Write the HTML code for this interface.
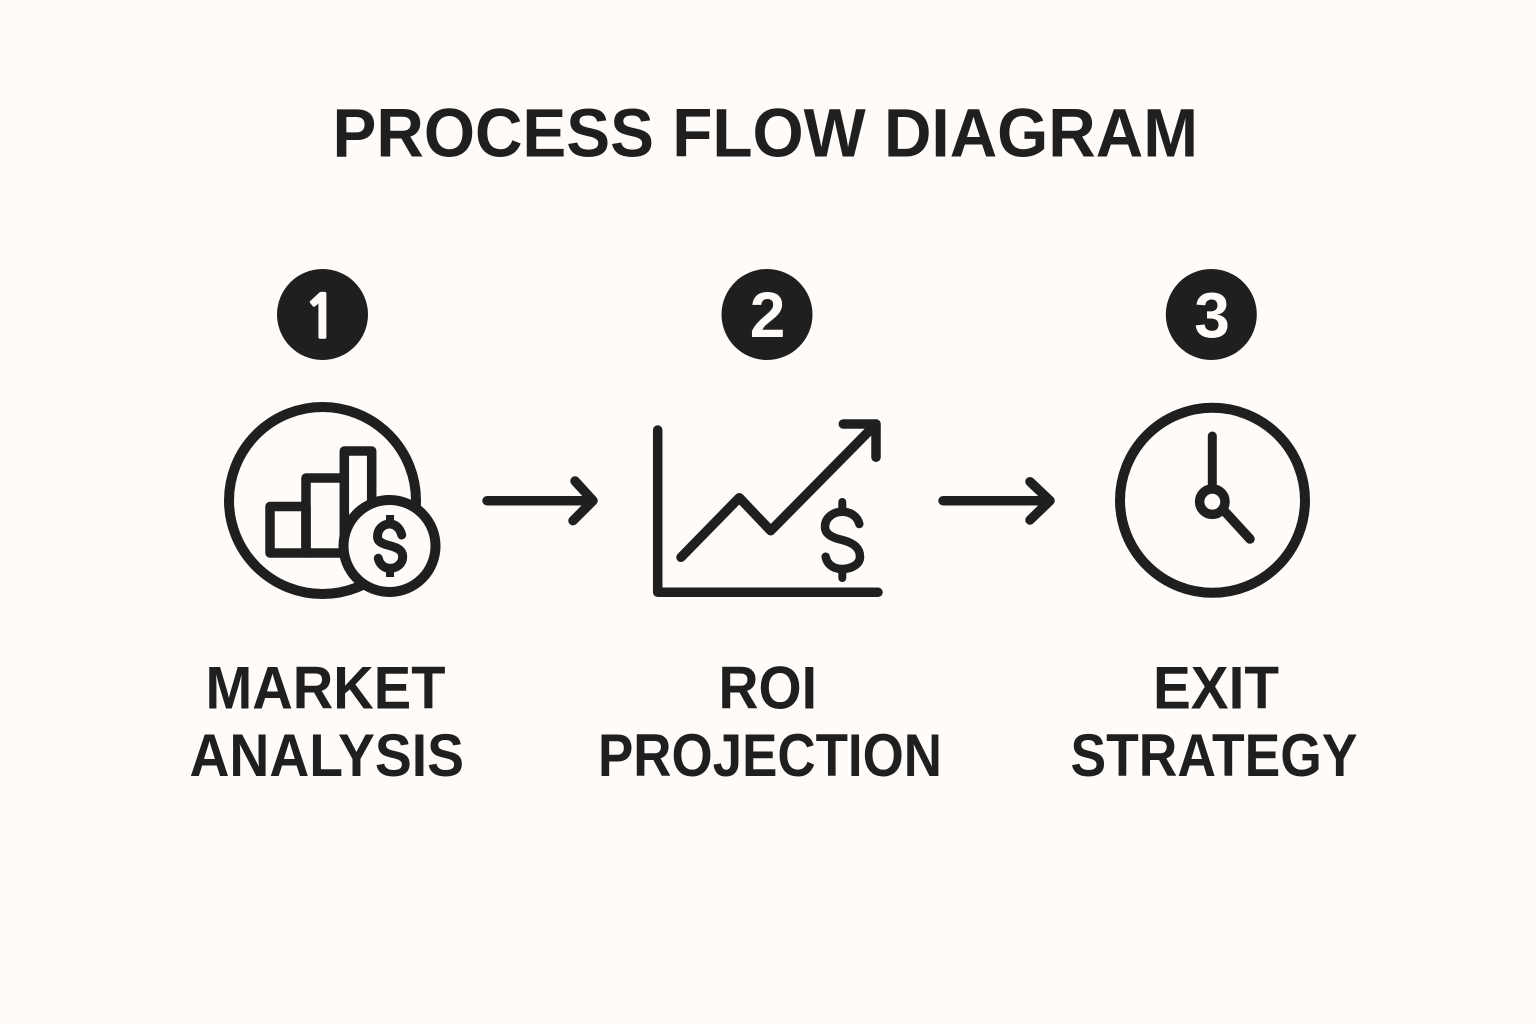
<!DOCTYPE html>
<html lang="en">
<head>
<meta charset="utf-8">
<title>Process Flow Diagram</title>
<style>
html,body{margin:0;padding:0;width:1536px;height:1024px;overflow:hidden;background:#fefbf8}
svg{display:block}
text{font-family:"Liberation Sans",sans-serif;font-weight:700;fill:#1f1f1f}
.num{fill:#fefbf8;text-anchor:middle;font-size:64px}
.one{font-family:"NanumGothic","Liberation Sans",sans-serif;font-size:60px;stroke:#fefbf8;stroke-width:1.5px}
.i{fill:none;stroke:#1f1f1f;stroke-linecap:round;stroke-linejoin:round}
</style>
</head>
<body>
<svg width="1536" height="1024" viewBox="0 0 1536 1024" xmlns="http://www.w3.org/2000/svg">
<rect width="1536" height="1024" fill="#fefbf8"/>

<text x="332.5" y="156.7" font-size="69" textLength="865.5" lengthAdjust="spacingAndGlyphs">PROCESS FLOW DIAGRAM</text>

<circle cx="322.5" cy="314.5" r="45.5" fill="#1f1f1f"/>
<circle cx="767" cy="314.5" r="45.5" fill="#1f1f1f"/>
<circle cx="1211.3" cy="314.5" r="45.5" fill="#1f1f1f"/>
<text class="num one" x="321" y="338">1</text>
<text class="num" x="767.5" y="337">2</text>
<text class="num" x="1212" y="337.5">3</text>

<!-- Market analysis icon -->
<g class="i">
<circle cx="322.5" cy="500.5" r="93.5" stroke-width="10"/>
<path stroke-width="9.5" d="M270 506.5H306V553H270Z"/>
<path stroke-width="9.5" d="M306 553V478H344.3V553H306"/>
<path stroke-width="9.5" d="M344.3 478V451H371.7V505"/>
<circle cx="389.5" cy="546" r="46" stroke-width="10" fill="#fefbf8"/>
<path stroke-width="9" d="M401.7 535C400 528 395 524 390 524C383 524 377.5 529 377.5 536.7C377.5 542 383 544 390 545.7C397 547.5 402.7 550 402.7 556.7C402.7 563.5 397 568.3 390 568.3C384 568.3 379.5 564 378.3 558.3"/>
<path stroke-width="8" stroke-linecap="butt" d="M390 515V524M390 568V577"/>
</g>

<!-- Arrow 1 -->
<path class="i" stroke-width="9.5" d="M487 500.7H593M575 481L593 500.7L573 520.7"/>

<!-- ROI icon -->
<g class="i">
<path stroke-width="9.5" d="M657.7 430V592.3H878"/>
<path stroke-width="9.5" d="M681 557.3L739.3 497.7L770.7 530.7L876 424"/>
<path stroke-width="9.5" d="M843.3 424H876V457.3"/>
<path stroke-width="8.5" d="M859.3 524C857.5 516 850 511.7 842.3 511.7C833 511.7 825 518 825 526.7C825 535 834 538 842.3 540C852 542.5 860 547 860 556.7C860 564 852 569 842.3 569C833 569 827 564 825.7 556.7"/>
<path stroke-width="8" d="M842.3 502V511.7M842.3 569V578"/>
</g>

<!-- Arrow 2 -->
<path class="i" stroke-width="9.5" d="M943 500.7H1050M1030 481.7L1050 500.7L1030 520"/>

<!-- Clock icon -->
<g class="i">
<circle cx="1212.5" cy="500.3" r="92.5" stroke-width="10"/>
<path stroke-width="9" d="M1212.3 436V488"/>
<path stroke-width="9.5" d="M1225 511.7L1250 539"/>
<circle cx="1212.3" cy="501.7" r="12.7" stroke-width="9.5" fill="#fefbf8"/>
</g>

<text x="205.5" y="708.3" font-size="60.5" textLength="240" lengthAdjust="spacingAndGlyphs">MARKET</text>
<text x="189.5" y="776" font-size="60.5" textLength="274.5" lengthAdjust="spacingAndGlyphs">ANALYSIS</text>
<text x="718.5" y="708.3" font-size="60.5" textLength="98.5" lengthAdjust="spacingAndGlyphs">ROI</text>
<text x="598" y="776" font-size="60.5" textLength="344" lengthAdjust="spacingAndGlyphs">PROJECTION</text>
<text x="1153" y="708.3" font-size="60.5" textLength="126" lengthAdjust="spacingAndGlyphs">EXIT</text>
<text x="1070.5" y="776" font-size="60.5" textLength="287" lengthAdjust="spacingAndGlyphs">STRATEGY</text>
</svg>
</body>
</html>
